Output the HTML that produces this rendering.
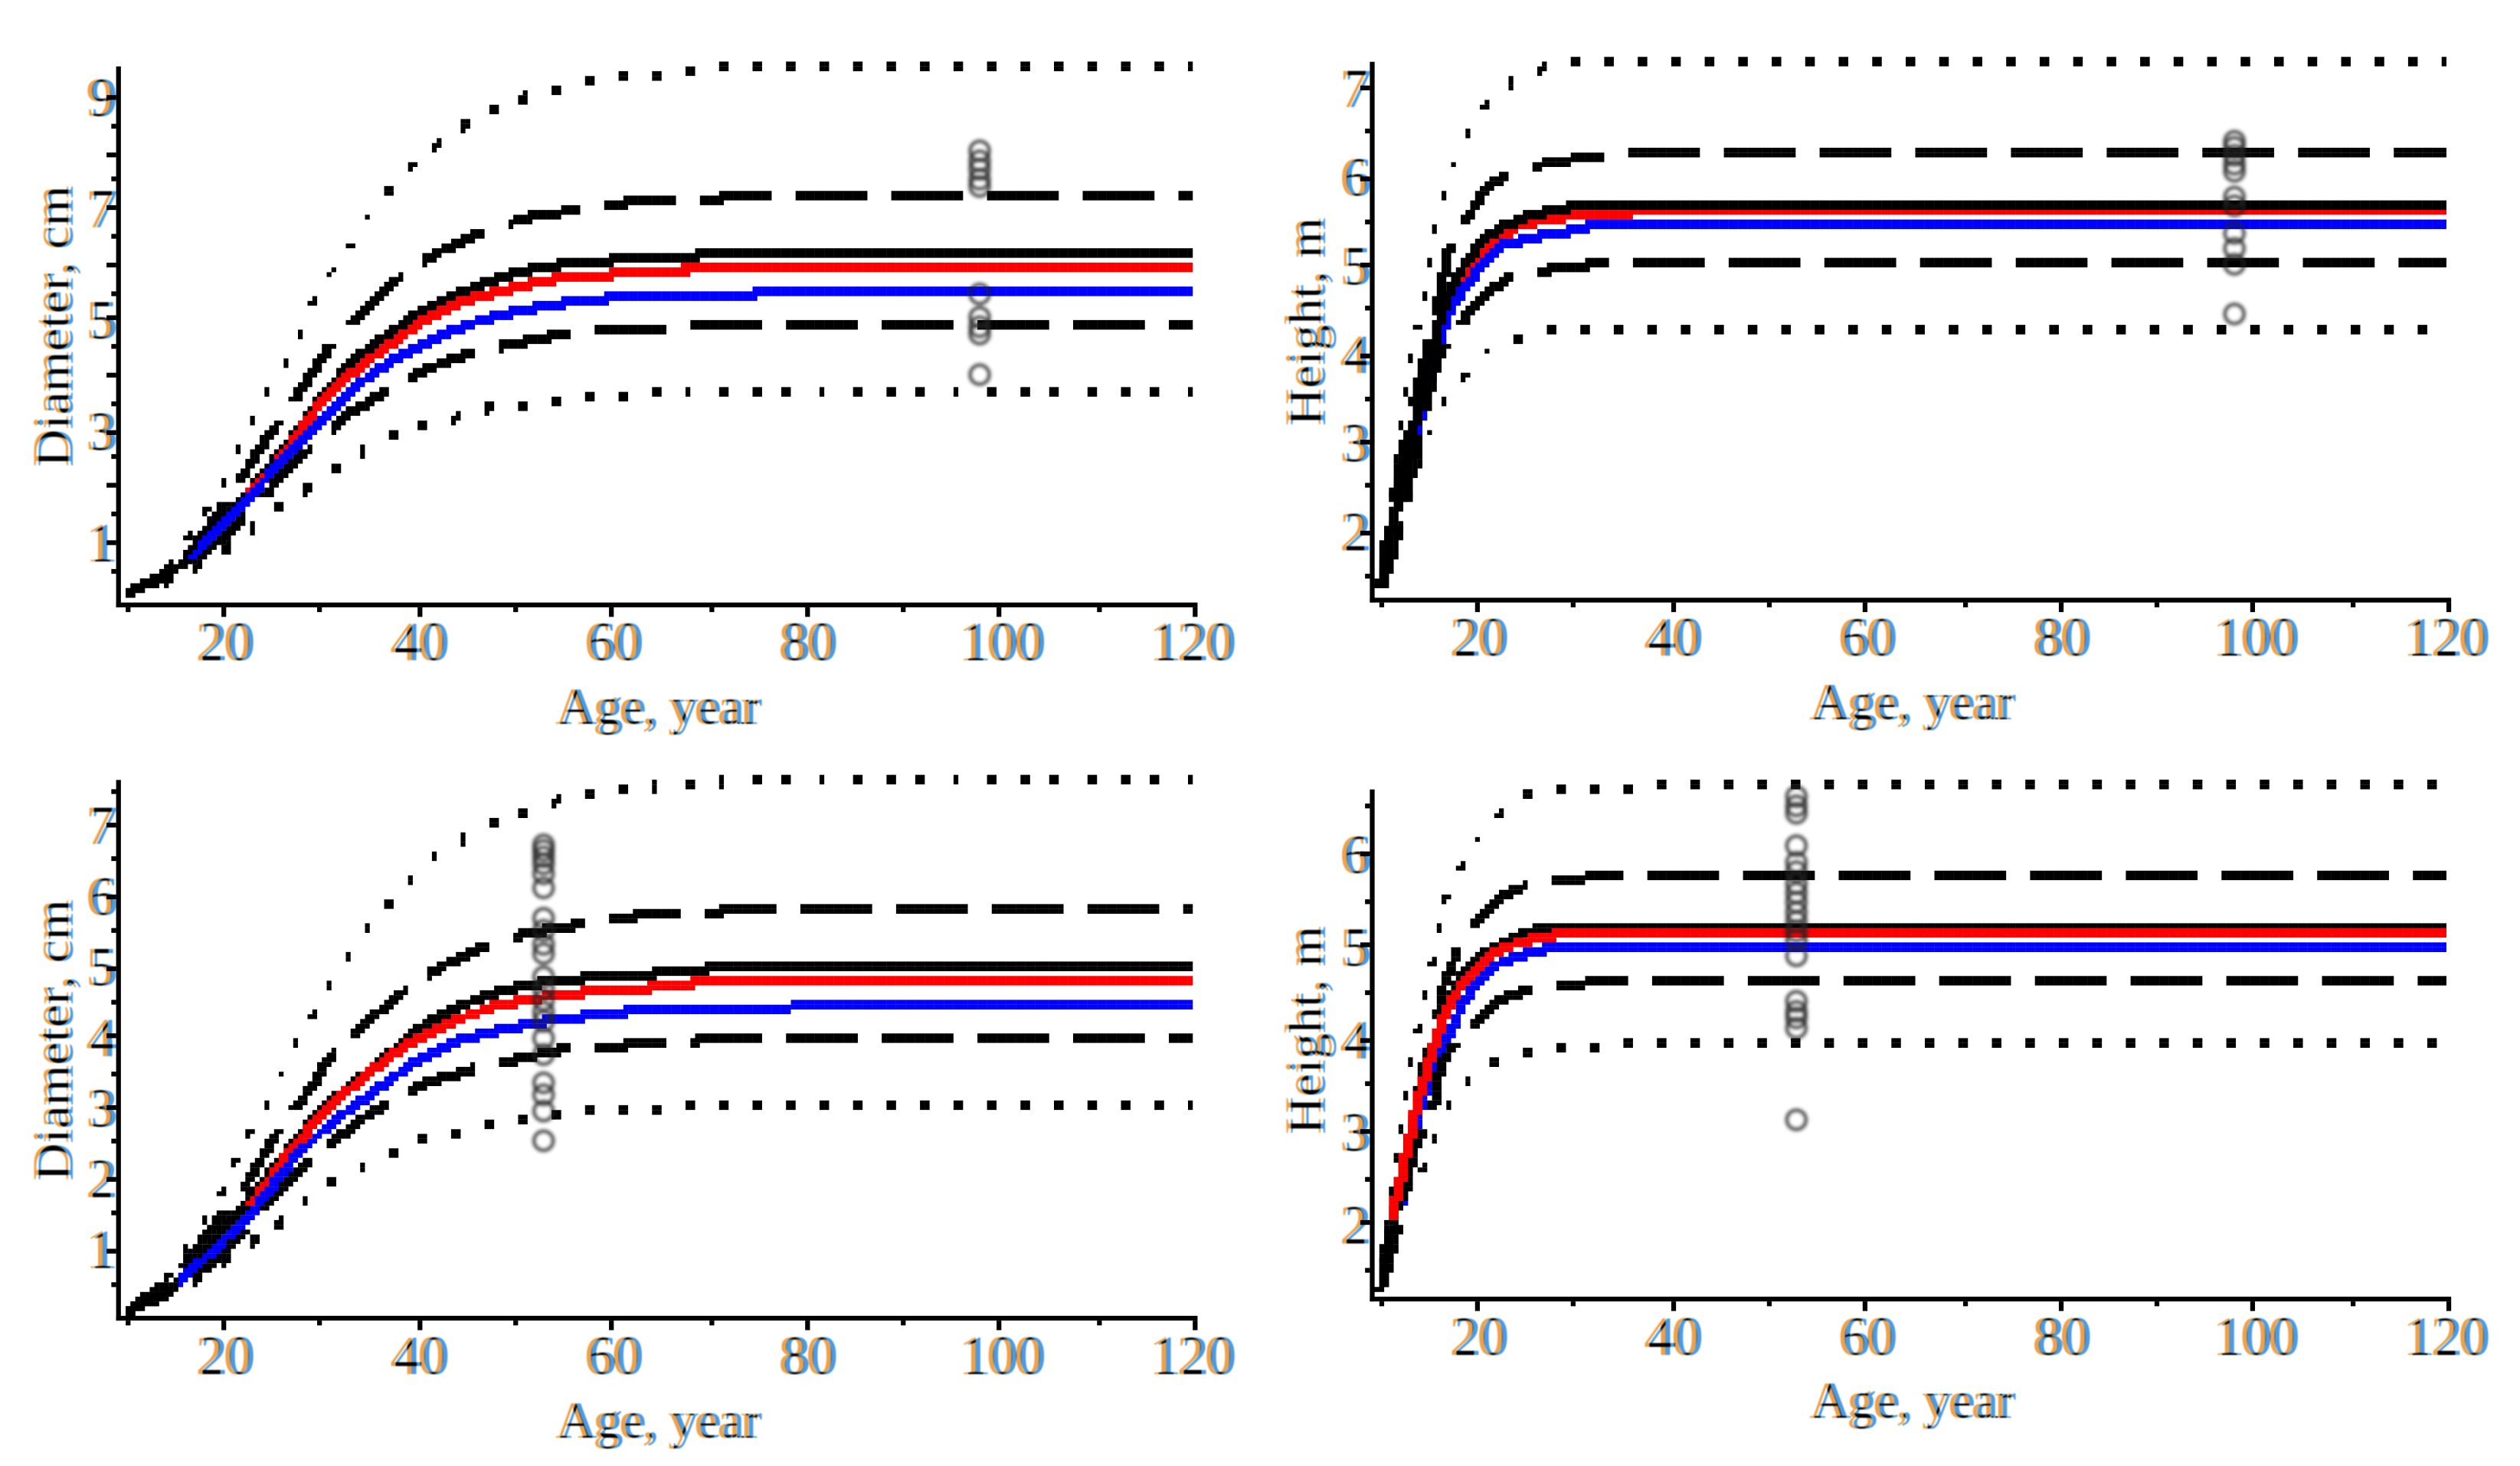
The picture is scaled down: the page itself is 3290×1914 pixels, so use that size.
<!DOCTYPE html>
<html lang="en">
<head>
<meta charset="utf-8">
<title>Diameter and height growth curves</title>
<style>
html,body{margin:0;padding:0;background:#fff;}
body{width:3290px;height:1914px;overflow:hidden;}
svg{display:block;}
text{font-family:"Liberation Serif",serif;fill:#000;}
.tick-label{font-size:72px;text-anchor:middle;}
.axis-title{font-size:68px;text-anchor:middle;}
</style>
</head>
<body>
<svg id="chart" xmlns="http://www.w3.org/2000/svg" width="3290" height="1914" viewBox="0 0 3290 1914">
  <defs>
    <filter id="fringe" filterUnits="userSpaceOnUse" x="0" y="0" width="3290" height="1914" color-interpolation-filters="sRGB">
      <feOffset in="SourceAlpha" dx="-3" result="la"/>
      <feOffset in="SourceAlpha" dx="3" result="ra"/>
      <feFlood flood-color="#eda14a" result="o"/>
      <feComposite in="o" in2="la" operator="in" result="lc"/>
      <feFlood flood-color="#4a9be4" result="b"/>
      <feComposite in="b" in2="ra" operator="in" result="rc"/>
      <feComposite in="la" in2="ra" operator="in" result="both"/>
      <feMerge result="m">
        <feMergeNode in="lc"/>
        <feMergeNode in="rc"/>
        <feMergeNode in="both"/>
      </feMerge>
      <feGaussianBlur in="m" stdDeviation="0.9"/>
    </filter>
    <filter id="obs-blur" filterUnits="userSpaceOnUse" x="0" y="0" width="3290" height="1914">
      <feGaussianBlur stdDeviation="2"/>
    </filter>
  </defs>
  <rect width="3290" height="1914" fill="#fff"/>
  <g id="panel-1">
    <g class="labels" filter="url(#fringe)">
      <text class="axis-title" x="860" y="945">Age, year</text>
      <text class="axis-title" transform="translate(92 426) rotate(-90)">Diameter, cm</text>
    </g>
  </g>
  <g id="panel-2">
    <g class="labels" filter="url(#fringe)">
      <text class="axis-title" x="2497" y="939">Age, year</text>
      <text class="axis-title" transform="translate(1727 420) rotate(-90)">Height, m</text>
    </g>
  </g>
  <g id="panel-3">
    <g class="labels" filter="url(#fringe)">
      <text class="axis-title" x="860" y="1877">Age, year</text>
      <text class="axis-title" transform="translate(92 1358) rotate(-90)">Diameter, cm</text>
    </g>
  </g>
  <g id="panel-4">
    <g class="labels" filter="url(#fringe)">
      <text class="axis-title" x="2497" y="1851">Age, year</text>
      <text class="axis-title" transform="translate(1727 1345) rotate(-90)">Height, m</text>
    </g>
  </g>
</svg>
<script>
/* Shared axis values */
const xTickLabels = [20, 40, 60, 80, 100, 120];
const xMinorTicks = [10, 30, 50, 70, 90, 110];

/* Panel 1: diameter, observations at age 98. Each pair is [age, value]. */
const p1YLabels = [1, 3, 5, 7, 9];
const p1YMajor = [1, 2, 3, 4, 5, 6, 7, 8, 9];
const p1YMinor = [0.5, 1.5, 2.5, 3.5, 4.5, 5.5, 6.5, 7.5, 8.5];
const p1Black = [[10,.1],[13.5,.33],[16.4,.71],[20,1.42],[23.5,2.09],[27,2.85],[30,3.6],[33.4,4.28],[36.7,4.7],[40,5.12],[44,5.46],[49,5.79],[53,5.95],[58,6.05],[68.9,6.13],[69,6.2],[120,6.2]];
const p1Red = [[22.5,1.85],[25.5,2.43],[30,3.52],[33.4,4.07],[36.7,4.5],[40,4.91],[44,5.29],[48.3,5.5],[53.2,5.71],[58,5.79],[67.6,5.87],[67.7,5.94],[120,5.94]];
const p1Blue = [[16.9,.75],[21.8,1.67],[25,2.26],[28.4,2.93],[31.7,3.48],[35,3.99],[38.3,4.36],[41.6,4.66],[46.6,5],[51.6,5.2],[56.5,5.33],[62.3,5.43],[74.9,5.45],[75,5.52],[120,5.52]];
const p1DashUp = [[10,.1],[15,.5],[19,1.4],[22,2.2],[24,2.75],[26.4,3.35],[31,4.53],[35.5,5.37],[39.6,5.96],[42.5,6.25],[47.4,6.63],[51.6,6.85],[56.5,6.97],[62.3,7.12],[69.8,7.16],[74,7.24],[120,7.24]];
const p1DashLow = [[10,.1],[15,.45],[19.3,1],[23.5,1.71],[26.8,2.35],[30,2.85],[32.6,3.27],[37.5,3.82],[40.8,4.11],[45.8,4.41],[50,4.57],[54.9,4.74],[59.8,4.83],[64,4.84],[69,4.91],[120,4.91]];
const p1DotUp = [[10,.1],[14,.5],[17.3,1.35],[19.2,1.8],[20.8,2.37],[22.2,2.93],[23.7,3.46],[25.3,3.96],[27.1,4.49],[28.4,5.04],[29.9,5.61],[32,6.05],[33.8,6.55],[35.5,7.07],[38,7.49],[40.4,7.94],[43,8.27],[46,8.61],[48.8,8.84],[51.7,9.03],[55,9.13],[58.2,9.31],[61,9.39],[64.8,9.41],[68,9.48],[74.9,9.56],[120,9.56]];
const p1DotLow = [[10,.1],[15,.35],[19.2,.75],[21.8,1.1],[24.7,1.52],[27.4,1.8],[29.9,2.15],[32.8,2.47],[35.5,2.77],[38.5,3.02],[41.7,3.1],[44.6,3.27],[47.9,3.44],[51.2,3.48],[54.7,3.54],[57.8,3.62],[61,3.62],[64.6,3.71],[120,3.71]];
const p1ObsAge = 97.8;
const p1Obs = [8.03, 7.85, 7.7, 7.52, 7.39, 5.46, 5.04, 4.87, 4.74, 4.01];

/* Panel 2: height, observations at age 98. */
const p2YLabels = [2, 3, 4, 5, 6, 7];
const p2YMajor = [2, 3, 4, 5, 6, 7];
const p2YMinor = [1.5, 2.5, 3.5, 4.5, 5.5, 6.5];
const p2Black = [[10.1,1.4],[11.3,2.08],[12.1,2.53],[13.4,3.16],[14.6,3.77],[15.9,4.3],[17.1,4.72],[18.8,5.04],[20.4,5.27],[22.5,5.43],[25,5.55],[27.9,5.63],[30.7,5.67],[120,5.67]];
const p2Red = [[12,2.53],[14,3.44],[15.5,3.98],[17.5,4.67],[19.6,5.01],[22,5.3],[24.5,5.46],[27.4,5.53],[31.6,5.57],[35.6,5.58],[35.7,5.62],[120,5.62]];
const p2Blue = [[12,2.43],[13.4,3],[14.6,3.54],[16.7,4.4],[18.3,4.69],[20,4.93],[22.5,5.22],[25.8,5.32],[30.7,5.4],[31.6,5.46],[120,5.46]];
const p2DashUp = [[10.1,1.43],[10.8,2.03],[11.7,2.5],[12.8,3.16],[14.6,3.93],[15.9,4.56],[17.1,5.24],[19.3,5.59],[20.8,5.88],[22.9,6.01],[27,6.15],[30.7,6.21],[38,6.27],[120,6.27]];
const p2DashLow = [[10.1,1.4],[11.3,1.77],[13.4,2.77],[14,3.11],[15.5,3.83],[16.3,4.04],[19.2,4.48],[21.2,4.72],[23.7,4.88],[28.3,4.97],[33.2,5.02],[120,5.02]];
const p2DotUp = [[10.1,1.43],[11,2.19],[11.8,2.93],[12.6,3.64],[13,4.01],[14,4.38],[15.1,5.14],[15.9,5.51],[16.6,5.89],[17.9,6.2],[19.3,6.57],[21.2,6.87],[23.8,7.07],[26.7,7.22],[30,7.28],[33.5,7.29],[120,7.29]];
const p2DotLow = [[10.1,1.43],[11.5,1.93],[13.4,2.63],[14.5,2.88],[15.4,3.2],[16.9,3.52],[19,3.78],[21.2,4.06],[24.5,4.17],[27.6,4.27],[120,4.27]];
const p2ObsAge = 97.9;
const p2Obs = [6.4, 6.33, 6.24, 6.14, 6.06, 5.77, 5.67, 5.36, 5.19, 5.01, 4.45];

/* Panel 3: diameter, observations at age 53. */
const p3YLabels = [1, 2, 3, 4, 5, 6, 7];
const p3YMajor = [1, 2, 3, 4, 5, 6, 7];
const p3YMinor = [0.5, 1.5, 2.5, 3.5, 4.5, 5.5, 6.5, 7.5];
const p3Black = [[10.2,.13],[13.5,.32],[16,.59],[20,1.29],[23.5,1.85],[26.8,2.42],[30,2.98],[33.4,3.35],[36.7,3.72],[40,4.12],[44.1,4.42],[48.3,4.65],[53.2,4.78],[58.2,4.85],[69.7,4.94],[69.8,4.98],[120,4.98]];
const p3Red = [[22.8,1.62],[26.8,2.38],[30,2.88],[33.4,3.32],[36.7,3.68],[40,3.98],[44.1,4.25],[48.3,4.45],[53.2,4.57],[58.2,4.65],[68.4,4.73],[68.5,4.78],[120,4.78]];
const p3Blue = [[15.6,.55],[20.2,1.15],[23.5,1.62],[26.8,2.22],[30,2.65],[33.4,3.02],[36.7,3.35],[40,3.68],[44.1,3.95],[48.3,4.1],[53.2,4.22],[57.4,4.3],[62.3,4.37],[78.3,4.41],[78.4,4.44],[120,4.44]];
const p3DashUp = [[10.2,.13],[15,.6],[19.3,1.39],[21.8,1.79],[24.3,2.38],[26.4,2.85],[28.8,3.25],[30.9,3.72],[32.6,3.92],[35,4.25],[39.2,4.71],[42.5,5.01],[47.4,5.31],[51.2,5.46],[56.5,5.59],[62.3,5.71],[69.8,5.75],[72.2,5.8],[120,5.8]];
const p3DashLow = [[10.2,.13],[16.9,.59],[21,1.09],[25.1,1.75],[28,2.15],[30,2.42],[32.6,2.65],[35,2.92],[37.9,3.12],[40.8,3.35],[45.8,3.55],[49.9,3.68],[54.9,3.82],[59,3.85],[63.1,3.9],[69.8,3.96],[120,3.96]];
const p3DotUp = [[10.2,.13],[14,.55],[17.3,1.25],[19.1,1.59],[20.6,2.02],[21.8,2.45],[23.7,2.88],[25.3,3.28],[26.6,3.68],[28.2,4.1],[29.9,4.5],[31.6,4.91],[33.6,5.33],[35.5,5.7],[37.9,6.01],[40,6.41],[42.9,6.66],[45.8,6.89],[48.6,7.09],[51.7,7.23],[54.7,7.36],[57.7,7.44],[61.1,7.51],[67.9,7.58],[74.3,7.64],[120,7.64]];
const p3DotLow = [[10.2,.13],[15,.4],[19.2,.72],[21.8,1],[24.7,1.24],[27.2,1.57],[29.7,1.84],[32.6,2.05],[35.5,2.25],[38.5,2.44],[41.5,2.6],[44.6,2.66],[47.9,2.78],[51.2,2.82],[54,2.88],[57.8,2.94],[64.6,2.94],[67.9,3.01],[120,3.01]];
const p3ObsAge = 52.9;
const p3Obs = [6.72, 6.64, 6.55, 6.45, 6.31, 6.11, 5.68, 5.51, 5.31, 5.18, 4.85, 4.68, 4.52, 4.35, 4.22, 3.98, 3.75, 3.35, 3.18, 2.95, 2.53];

/* Panel 4: height, observations at age 53. */
const p4YLabels = [2, 3, 4, 5, 6];
const p4YMajor = [2, 3, 4, 5, 6];
const p4YMinor = [1.5, 2.5, 3.5, 4.5, 5.5, 6.5];
const p4Black = [[10.1,1.32],[11.3,2.04],[12.6,2.7],[13.8,3.31],[15,3.77],[16.7,4.33],[18.3,4.69],[20,4.89],[22.5,5.04],[25.4,5.17],[28.7,5.2],[120,5.2]];
const p4Red = [[11.2,2.09],[12.6,2.75],[13.8,3.31],[15,3.77],[16.3,4.18],[17.5,4.46],[19.2,4.69],[21.7,4.94],[24.1,5.04],[26.6,5.1],[29.5,5.15],[120,5.15]];
const p4Blue = [[12.1,2.24],[13.8,3.21],[15.5,3.67],[16.9,4.02],[18.3,4.35],[20,4.63],[22.5,4.84],[25.8,4.94],[28.3,5],[120,5]];
const p4DashUp = [[10.1,1.32],[10.5,1.73],[12.1,2.49],[13.4,3.16],[14.6,3.77],[15.5,4.05],[16.5,4.58],[18.2,5.02],[20.4,5.32],[22.5,5.53],[25.4,5.68],[28.7,5.73],[37.4,5.78],[120,5.78]];
const p4DashLow = [[10.1,1.32],[11.7,1.98],[13.4,2.8],[15.5,3.31],[16.3,3.77],[17.9,3.97],[20.2,4.23],[22.1,4.43],[25.4,4.53],[28.7,4.58],[33.2,4.63],[120,4.63]];
const p4DotUp = [[10.1,1.4],[10.9,2.09],[12.1,3],[13,3.84],[14.2,4.23],[14.9,4.58],[16,5.31],[17.1,5.63],[18.8,5.95],[20.6,6.25],[22.9,6.52],[25.8,6.67],[29.2,6.72],[35.8,6.72],[39,6.77],[120,6.77]];
const p4DotLow = [[10.1,1.32],[12.4,2.24],[14.9,2.71],[15.9,3.04],[17.4,3.39],[19.8,3.63],[22.7,3.8],[25.8,3.85],[29.2,3.91],[32.6,3.91],[35.5,3.96],[120,3.96]];
const p4ObsAge = 52.8;
const p4Obs = [6.62, 6.52, 6.44, 6.09, 5.91, 5.81, 5.68, 5.58, 5.48, 5.37, 5.27, 5.17, 5.07, 4.9, 4.41, 4.3, 4.23, 4.12, 3.13];

const NS = 'http://www.w3.org/2000/svg';
const CX = 6.247, CY = 6.25, OX = 1.7, OY = 5.4;
const END_AGE = 119.7;
const DASH = { period: 124.94, on: 88, single: false };
const DOT = { period: 43.73, on: 7, single: true };

function mk(tag, parent, attrs) {
  const node = document.createElementNS(NS, tag);
  for (const k in attrs) node.setAttribute(k, attrs[k]);
  parent.appendChild(node);
  return node;
}
function snapX(x) { return OX + Math.round((x - OX) / CX) * CX; }
function snapY(y) { return OY + Math.round((y - OY) / CY) * CY; }

function rasterPath(points, xAt, yAt, pattern, anchorX) {
  const pts = points.map(p => [xAt(p[0]), yAt(p[1])]);
  const endX = xAt(END_AGE);
  const samples = [];
  let s = 0;
  for (let i = 0; i < pts.length - 1; i++) {
    const dx = pts[i + 1][0] - pts[i][0];
    const dy = pts[i + 1][1] - pts[i][1];
    const len = Math.hypot(dx, dy) || 1;
    const steep = Math.abs(dy) > Math.abs(dx);
    for (let t = 0; t < len; t += 1) {
      samples.push([pts[i][0] + dx * t / len, pts[i][1] + dy * t / len, s + t, steep]);
    }
    s += len;
  }
  let anchorS = 0;
  if (pattern) {
    for (const q of samples) { if (q[0] >= anchorX) { anchorS = q[2]; break; } }
  }
  const cells = new Set();
  const put = (c, r) => cells.add(c + ':' + r);
  for (const q of samples) {
    if (q[0] > endX) break;
    if (pattern) {
      const m = (((q[2] - anchorS) % pattern.period) + pattern.period) % pattern.period;
      if (m >= pattern.on) continue;
    }
    const fx = (q[0] - OX) / CX, fy = (q[1] - OY) / CY;
    if (q[3]) {
      if (pattern && pattern.single) {
        put(Math.floor(fx), Math.floor(fy));
      } else {
        const c = Math.round(fx - 1);
        const r = Math.floor(fy);
        put(c, r);
        put(c + 1, r);
      }
    } else {
      const c = Math.floor(fx);
      const r = Math.round(fy - 1);
      put(c, r);
      put(c, r + 1);
    }
  }
  let d = '';
  cells.forEach(key => {
    const parts = key.split(':');
    const x = (OX + (+parts[0]) * CX).toFixed(1);
    const y = (OY + (+parts[1]) * CY).toFixed(1);
    d += 'M' + x + ' ' + y + 'h' + CX + 'v' + CY + 'h-' + CX + 'z';
  });
  return d;
}

function drawPanel(cfg) {
  const g = document.getElementById(cfg.id);
  const labels = g.querySelector('.labels');
  const xAt = a => cfg.x20 + (a - 20) * cfg.xUnit;
  const yAt = v => cfg.yRef - (v - cfg.vRef) * cfg.yUnit;
  const axisBottom = cfg.axisRow + CY;

  const xLine = mk('rect', g, { x: cfg.axisCol, y: cfg.axisRow, width: snapX(xAt(120) - 3) + CX - cfg.axisCol, height: CY, fill: '#000' });
  
  
  const yLine = mk('rect', g, { x: cfg.axisCol, y: cfg.axisTop, width: CX, height: axisBottom - cfg.axisTop, fill: '#000' });
  
  

  xTickLabels.forEach(v => {
    const t = mk('rect', g, { x: snapX(xAt(v) - 3), y: axisBottom, width: CX, height: 2 * CY, fill: '#000' });
    
    
    const lab = mk('text', labels, { 'class': 'tick-label', x: xAt(v) + (v === 120 ? -3 : 2), y: cfg.xLabelY });
    lab.textContent = String(v);
    
    
  });
  xMinorTicks.forEach(v => {
    const t = mk('rect', g, { x: snapX(xAt(v) - 3), y: axisBottom, width: CX, height: CY, fill: '#000' });
    
    
  });
  cfg.yMajor.forEach(v => {
    const t = mk('rect', g, { x: cfg.axisCol - 2 * CX, y: snapY(yAt(v) - 3), width: 2 * CX, height: CY, fill: '#000' });
    
    
  });
  cfg.yLabels.forEach(v => {
    const lab = mk('text', labels, { 'class': 'tick-label', x: cfg.yLabelX, y: yAt(v) + 25 });
    lab.textContent = String(v);
    
    
  });
  cfg.yMinor.forEach(v => {
    const t = mk('rect', g, { x: cfg.axisCol - CX, y: snapY(yAt(v) - 3), width: CX, height: CY, fill: '#000' });
    
    
  });

  cfg.series.forEach(s => {
    const path = mk('path', g, { d: rasterPath(s.data, xAt, yAt, s.pattern, s.anchor), fill: s.color });
    
    
  });

  const obsGroup = mk('g', g, { filter: 'url(#obs-blur)' });
  
  
  cfg.obs.forEach(v => {
    const c = mk('circle', obsGroup, { cx: xAt(cfg.obsAge), cy: yAt(v), r: 12.5, fill: 'none', stroke: '#222', 'stroke-width': 5, 'stroke-opacity': 0.72 });
    
    
  });
}

function line(name, data, color) { return { name: name, data: data, color: color }; }
function patterned(name, data, pattern, anchor) { return { name: name, data: data, color: '#000', pattern: pattern, anchor: anchor }; }

drawPanel({
  id: 'panel-1', x20: 292.5, xUnit: 12.68, yRef: 708, vRef: 1, yUnit: 72.7,
  axisCol: 151.6, axisRow: 786.65, axisTop: 86.7, xLabelY: 862, yLabelX: 133,
  yLabels: p1YLabels, yMajor: p1YMajor, yMinor: p1YMinor, obs: p1Obs, obsAge: p1ObsAge,
  series: [
    patterned('upper-dotted-bound', p1DotUp, DOT, 1507),
    patterned('lower-dotted-bound', p1DotLow, DOT, 1507),
    patterned('upper-dashed-bound', p1DashUp, DASH, 1413.7),
    patterned('lower-dashed-bound', p1DashLow, DASH, 1401.3),
    line('black-curve', p1Black, '#000'),
    line('red-curve', p1Red, '#f00'),
    line('blue-curve', p1Blue, '#00f')
  ]
});
drawPanel({
  id: 'panel-2', x20: 1929.4, xUnit: 12.68, yRef: 577.7, vRef: 3, yUnit: 115.7,
  axisCol: 1788.4, axisRow: 780.4, axisTop: 80.7, xLabelY: 856, yLabelX: 1770,
  yLabels: p2YLabels, yMajor: p2YMajor, yMinor: p2YMinor, obs: p2Obs, obsAge: p2ObsAge,
  series: [
    line('red-curve', p2Red, '#f00'),
    line('blue-curve', p2Blue, '#00f'),
    line('black-curve', p2Black, '#000'),
    patterned('upper-dotted-bound', p2DotUp, DOT, 3144),
    patterned('lower-dotted-bound', p2DotLow, DOT, 3157),
    patterned('upper-dashed-bound', p2DashUp, DASH, 3126),
    patterned('lower-dashed-bound', p2DashLow, DASH, 3132)
  ]
});
drawPanel({
  id: 'panel-3', x20: 292.5, xUnit: 12.68, yRef: 1446, vRef: 3, yUnit: 92.2,
  axisCol: 151.6, axisRow: 1717.9, axisTop: 1018.3, xLabelY: 1794, yLabelX: 133,
  yLabels: p3YLabels, yMajor: p3YMajor, yMinor: p3YMinor, obs: p3Obs, obsAge: p3ObsAge,
  series: [
    patterned('upper-dotted-bound', p3DotUp, DOT, 1507),
    patterned('lower-dotted-bound', p3DotLow, DOT, 1507),
    patterned('upper-dashed-bound', p3DashUp, DASH, 1420),
    patterned('lower-dashed-bound', p3DashLow, DASH, 1401),
    line('black-curve', p3Black, '#000'),
    line('red-curve', p3Red, '#f00'),
    line('blue-curve', p3Blue, '#00f')
  ]
});
drawPanel({
  id: 'panel-4', x20: 1929.4, xUnit: 12.68, yRef: 1477.7, vRef: 3, yUnit: 120.9,
  axisCol: 1788.4, axisRow: 1692.9, axisTop: 1030.7, xLabelY: 1769, yLabelX: 1770,
  yLabels: p4YLabels, yMajor: p4YMajor, yMinor: p4YMinor, obs: p4Obs, obsAge: p4ObsAge,
  series: [
    line('blue-curve', p4Blue, '#00f'),
    line('black-curve', p4Black, '#000'),
    patterned('upper-dotted-bound', p4DotUp, DOT, 3169),
    patterned('lower-dotted-bound', p4DotLow, DOT, 3169),
    patterned('upper-dashed-bound', p4DashUp, DASH, 3150.7),
    patterned('lower-dashed-bound', p4DashLow, DASH, 3157),
    line('red-curve', p4Red, '#f00')
  ]
});
</script>
</body>
</html>
